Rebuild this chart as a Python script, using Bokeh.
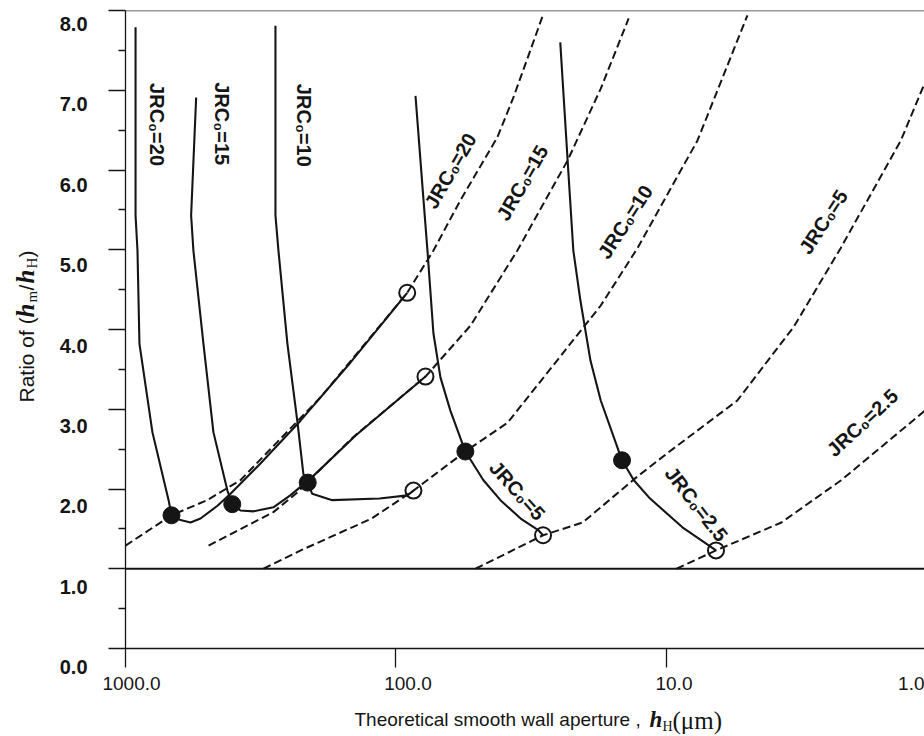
import math
from bokeh.plotting import figure
from bokeh.layouts import row, column
from bokeh.models import Range1d, FixedTicker, Span, CustomJSTickFormatter
from bokeh.core.properties import value
from bokeh.embed import file_html
from bokeh.resources import INLINE

# ---- data: smooth-wall aperture h_H (um) and ratio h_m/h_H ----
# solid curves (one per initial roughness JRC0)
jrc20_solid_h = [918, 918, 903, 888, 795, 693, 676, 626, 575, 528, 457, 409, 317, 225, 147, 90.9]
jrc20_solid_r = [7.79, 5.43, 4.99, 3.82, 2.71, 1.86, 1.67, 1.61, 1.58, 1.63, 1.79, 1.94, 2.32, 2.86, 3.59, 4.46]

jrc15_solid_h = [548, 572, 561, 515, 473, 420, 403, 376, 336, 284, 246, 207, 141, 77.8]
jrc15_solid_r = [6.91, 5.43, 4.99, 3.82, 2.71, 1.98, 1.81, 1.73, 1.72, 1.77, 1.92, 2.13, 2.67, 3.41]

jrc10_solid_h = [279, 279, 272, 252, 231, 220, 212, 204, 172, 115, 90.7, 86.2]
jrc10_solid_r = [7.81, 5.43, 4.99, 3.82, 2.82, 2.19, 2.08, 1.94, 1.86, 1.88, 1.92, 1.98]

jrc5_solid_h = [84.7, 79.1, 76.5, 72.7, 68.5, 62.9, 55.4, 47.5, 41.1, 34.6, 29.7, 28.6]
jrc5_solid_r = [6.93, 5.62, 4.99, 3.95, 3.40, 2.98, 2.47, 2.11, 1.86, 1.63, 1.48, 1.42]

jrc2_5_solid_h = [24.7, 23.2, 22.1, 20.8, 19.1, 17.5, 14.6, 13.2, 11.5, 8.73, 6.56]
jrc2_5_solid_r = [7.60, 6.12, 4.99, 4.36, 3.61, 3.11, 2.36, 2.11, 1.88, 1.52, 1.23]

# dashed curves (one per JRC0)
jrc20_dash_h = [1000, 676, 499, 376, 190, 90.9, 72.7, 57.8, 42.2, 36.8, 28.7]
jrc20_dash_r = [1.29, 1.67, 1.86, 2.11, 3.15, 4.46, 4.99, 5.62, 6.41, 6.91, 7.93]

jrc15_dash_h = [493, 284, 231, 212, 144, 77.8, 53.0, 35.6, 23.2, 17.5, 13.8]
jrc15_dash_r = [1.29, 1.71, 1.96, 2.09, 2.65, 3.41, 4.05, 4.99, 6.12, 7.02, 7.90]

jrc10_dash_h = [309, 225, 123, 86.2, 55.4, 38.7, 17.5, 12.8, 7.68, 5.02]
jrc10_dash_r = [1.00, 1.23, 1.63, 1.98, 2.47, 2.83, 4.30, 5.02, 6.37, 7.94]

jrc5_dash_h = [50.8, 28.6, 20.4, 13.1, 9.92, 5.47, 3.39, 2.27, 1.36, 1.11, 0.97]
jrc5_dash_r = [1.00, 1.42, 1.58, 2.13, 2.45, 3.11, 4.03, 5.02, 6.37, 7.09, 7.56]

jrc2_5_dash_h = [9.18, 6.56, 3.76, 2.26, 1.11, 0.97]
jrc2_5_dash_r = [1.00, 1.23, 1.58, 2.11, 2.98, 3.16]

# filled points (peak of each solid curve) and open points (end of each solid curve)
peak_h = [676, 403, 212, 55.4, 14.6]
peak_r = [1.67, 1.81, 2.08, 2.47, 2.36]
end_h = [90.9, 77.8, 86.2, 28.6, 6.56]
end_r = [4.46, 3.41, 1.98, 1.42, 1.23]

# curve labels
solid_labels = ["JRC₀=20", "JRC₀=15", "JRC₀=10", "JRC₀=5", "JRC₀=2.5"]
solid_label_h = [762, 438, 218, 35.6, 7.75]
solid_label_r = [6.57, 6.58, 6.56, 1.98, 1.81]
solid_label_deg = [-90, -90, -90, -48, -52]

dash_labels = ["JRC₀=20", "JRC₀=15", "JRC₀=10", "JRC₀=5", "JRC₀=2.5"]
dash_label_h = [62.9, 34.1, 14.2, 2.63, 1.886]
dash_label_r = [5.99, 5.84, 5.35, 5.35, 2.83]
dash_label_deg = [60, 60, 57, 57, 43]

# axis ticks
x_ticks = [1000, 100, 10, 1]
x_tick_text = ["1000.0", "100.0", "10.0", "1.0"]
y_ticks = [0, 1, 2, 3, 4, 5, 6, 7, 8]
y_minor = [0.5, 1.5, 2.5, 3.5, 4.5, 5.5, 6.5, 7.5]

SANS = "Liberation Sans"
SERIF = "Liberation Serif"
INK = "#151515"

# ---- geometry of the main frame ----
X_START, X_END = 1000, 1.112
Y_START, Y_END = 0, 8
PAGE_H = 736
LEFT_W = 100            # strip holding the y tick labels and title
FRAME_W, FRAME_H = 799, 638
TOP, BOTTOM = 10, 50
PPU = FRAME_H / (Y_END - Y_START)                 # pixels per ratio unit
DECADE_PX = FRAME_W / math.log10(X_START / X_END)  # pixels per decade
PAD_L = 125 - LEFT_W                               # room for the outward y ticks
FRAME_BOTTOM = TOP + FRAME_H

p = figure(x_axis_type="log", x_range=Range1d(X_START, X_END), y_range=Range1d(Y_START, Y_END),
           frame_width=FRAME_W, frame_height=FRAME_H,
           min_border_left=PAD_L, min_border_right=0, min_border_top=TOP, min_border_bottom=BOTTOM,
           output_backend="svg", toolbar_location=None)
p.grid.visible = False
p.outline_line_color = None

# x axis: the decade marks are drawn as the axis' tick marks (minor set), while the
# labelled positions sit a few pixels beside each decade, as in the printed figure
x_label_shift_px = [6, 12, 7.5, -25.6]
x_label_pos = [t / 10 ** (s / DECADE_PX) for t, s in zip(x_ticks, x_label_shift_px)]
xa = p.xaxis[0]
xa.ticker = FixedTicker(ticks=x_label_pos, minor_ticks=x_ticks)
xa.formatter = CustomJSTickFormatter(args=dict(pos=x_label_pos, labels=x_tick_text), code="""
    let best = 0;
    for (let i = 1; i < pos.length; i++) {
        if (Math.abs(Math.log(tick / pos[i])) < Math.abs(Math.log(tick / pos[best]))) best = i;
    }
    return labels[best];
""")
xa.major_tick_line_color = None
xa.major_tick_out = 0
xa.major_tick_in = 0
xa.minor_tick_out = 19
xa.minor_tick_in = 0
xa.minor_tick_line_color = INK
xa.minor_tick_line_width = 1.3
xa.axis_line_color = INK
xa.axis_line_width = 1.3
xa.major_label_standoff = 9
xa.major_label_text_font = SANS
xa.major_label_text_font_size = "19px"
xa.major_label_text_color = INK

ya = p.yaxis[0]
ya.ticker = FixedTicker(ticks=y_ticks, minor_ticks=y_minor)
ya.major_tick_out = 17
ya.major_tick_in = 0
ya.minor_tick_out = 7
ya.minor_tick_in = 0
ya.major_label_text_color = None
ya.major_label_text_font_size = "0px"
ya.major_label_standoff = 0
ya.axis_line_color = INK
ya.axis_line_width = 1.3
ya.major_tick_line_color = INK
ya.major_tick_line_width = 1.3
ya.minor_tick_line_color = INK
ya.minor_tick_line_width = 1.3

# frame top and the unit-ratio reference line
p.add_layout(Span(location=Y_END, dimension="width", line_color="#333333", line_width=1.3))
p.add_layout(Span(location=1, dimension="width", line_color=INK, line_width=2.2))

solid = [(jrc20_solid_h, jrc20_solid_r), (jrc15_solid_h, jrc15_solid_r),
         (jrc10_solid_h, jrc10_solid_r), (jrc5_solid_h, jrc5_solid_r),
         (jrc2_5_solid_h, jrc2_5_solid_r)]
dashed = [(jrc20_dash_h, jrc20_dash_r), (jrc15_dash_h, jrc15_dash_r),
          (jrc10_dash_h, jrc10_dash_r), (jrc5_dash_h, jrc5_dash_r),
          (jrc2_5_dash_h, jrc2_5_dash_r)]
for hx, ry in dashed:
    p.line(hx, ry, line_color=INK, line_width=2, line_dash="8 4")
for hx, ry in solid:
    p.line(hx, ry, line_color=INK, line_width=2.1)

p.scatter(peak_h, peak_r, marker="circle", size=17, fill_color=INK, line_color=INK)
p.scatter(end_h, end_r, marker="circle", size=16, fill_color=None, line_color=INK, line_width=2)

label_style = dict(text_font=value(SANS), text_font_style="bold", text_font_size="20px",
                   text_color=INK, text_align="center", text_baseline="middle")
p.text(x=solid_label_h, y=solid_label_r, text=solid_labels,
       angle=[math.radians(a) for a in solid_label_deg], **label_style)
p.text(x=dash_label_h, y=dash_label_r, text=dash_labels,
       angle=[math.radians(a) for a in dash_label_deg], **label_style)

# ---- left strip: y tick labels and the y title (same ratio scale as the frame) ----
left = figure(width=LEFT_W, height=PAGE_H,
              x_range=Range1d(0, LEFT_W),
              y_range=Range1d(Y_START - (PAGE_H - FRAME_BOTTOM) / PPU, Y_END + TOP / PPU),
              x_axis_location=None, y_axis_location=None, min_border=0,
              output_backend="svg", toolbar_location=None)
left.grid.visible = False
left.outline_line_color = None

y_label_y = [v - (13.5 + (Y_END - v) * 0.65) / PPU for v in y_ticks]
left.text(x=[87] * len(y_ticks), y=y_label_y, text=[f"{v:.1f}" for v in y_ticks],
          text_font=value(SANS), text_font_style="bold", text_font_size="20px",
          text_color=INK, text_align="right", text_baseline="middle")

def row_to_ratio(r):
    return (FRAME_BOTTOM - r) / PPU

def y_piece(text, x, start_row, font, size, style="normal"):
    # rotated to read upwards; x is the centre column of the glyphs
    left.text(x=[x], y=[row_to_ratio(start_row)], text=[text], angle=math.pi / 2,
              text_font=value(font), text_font_size=size, text_font_style=style,
              text_color=INK, text_align="left", text_baseline="middle")

y_piece("Ratio of (", 26, 402, SANS, "21px")
y_piece("h", 25, 317, SERIF, "25px", "bold italic")
y_piece("m", 31, 302, SERIF, "15px")
y_piece("/", 26, 290, SANS, "21px")
y_piece("h", 25, 283, SERIF, "25px", "bold italic")
y_piece("H", 31, 268, SERIF, "15px")
y_piece(")", 26, 257, SANS, "21px")

# ---- bottom strip: the x title, on the same log scale as the frame ----
strip_top = FRAME_BOTTOM + BOTTOM
bottom = figure(width=PAD_L + FRAME_W, height=PAGE_H - strip_top, x_axis_type="log",
                x_range=p.x_range, y_range=Range1d(PAGE_H, strip_top),
                x_axis_location=None, y_axis_location=None, min_border=0,
                min_border_left=PAD_L, output_backend="svg", toolbar_location=None)
bottom.grid.visible = False
bottom.outline_line_color = None

def x_piece(text, col, mid_row, font, size, style="normal"):
    bottom.text(x=[X_START], y=[mid_row], text=[text], x_offset=[col - 125],
                text_font=value(font), text_font_size=size, text_font_style=style,
                text_color=INK, text_align="left", text_baseline="middle")

x_piece("Theoretical smooth wall aperture ,", 354, 719, SANS, "19px")
x_piece("h", 649, 719, SERIF, "23px", "bold italic")
x_piece("H", 662, 726, SERIF, "14px")
x_piece("(μm)", 672, 720, SERIF, "25px")

layout = row(left, column(p, bottom))
open("out.html", "w").write(file_html(layout, INLINE))
